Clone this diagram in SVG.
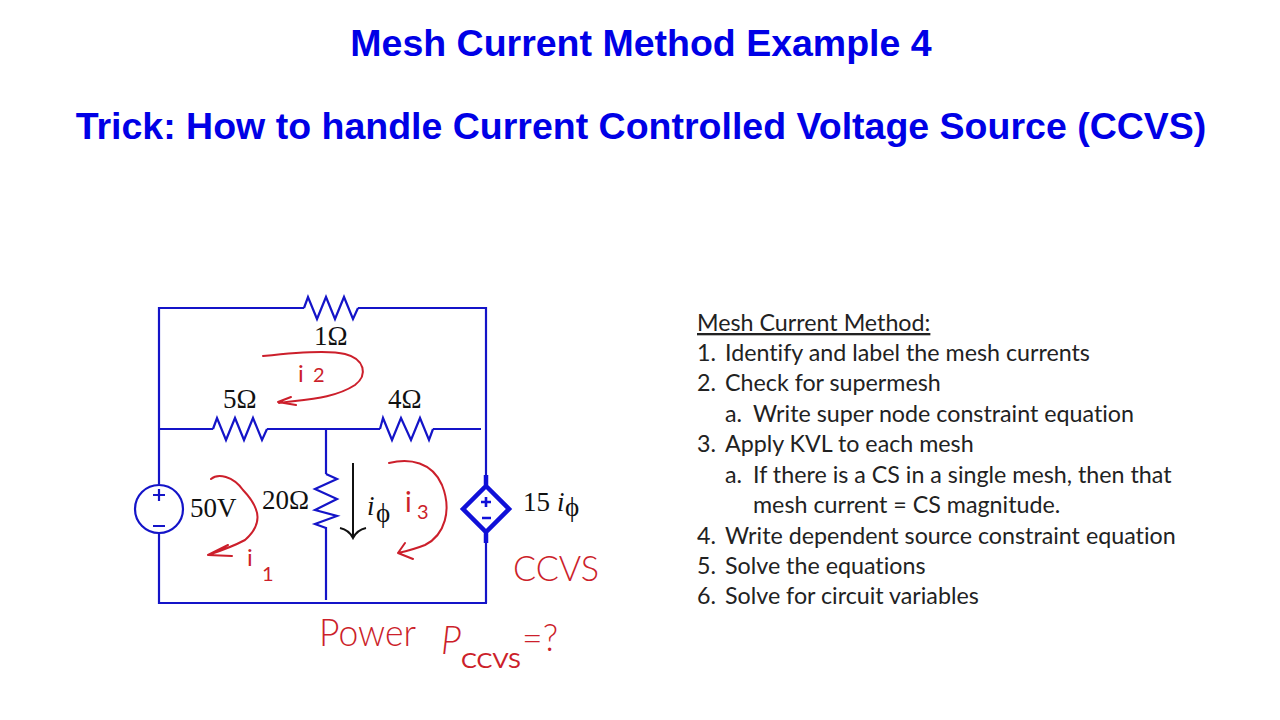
<svg xmlns="http://www.w3.org/2000/svg" width="1280" height="720" viewBox="0 0 1280 720">
<style>
.t{font-family:"Liberation Sans",Arial,sans-serif;font-weight:700;font-size:37.5px;fill:#0000e6;text-anchor:middle}
.w{fill:none;stroke:#1414c8;stroke-width:2.2;stroke-linejoin:miter}
.s{font-family:"Liberation Serif","Times New Roman",serif;font-size:27px;fill:#111}
.l{font-family:Lato,"Open Sans",sans-serif;font-size:23.25px;fill:#222;font-variant-ligatures:none}
.r{fill:none;stroke:#cc1f2b;stroke-width:2;stroke-linecap:round;stroke-linejoin:round}
.h{font-family:Lato,"Open Sans",sans-serif;font-weight:400;fill:#cc1f2b}
</style>
<rect width="1280" height="720" fill="#fff"/>
<g id="title">
<text class="t" x="641" y="56">Mesh Current Method Example 4</text>
<text class="t" x="641" y="139">Trick: How to handle Current Controlled Voltage Source (CCVS)</text>
</g>
<g id="connectors">
<path class="w" d="M486,475V308H358M304,308H159V484M159,534V603H487M486,603V540M159,429H213M267,429H380M433,429H481M326,429V474M326,527V600"/>
<path d="M353,463V537M340,528Q349,530 353,538Q357,530 366,528" fill="none" stroke="#111" stroke-width="2"/>
</g>
<g id="r1"><path class="w" d="M304,308L308,297L317,319L326,297L335,319L344,297L353,319L358,308"/><text class="s" x="314" y="345">1Ω</text></g>
<g id="r5"><path class="w" d="M213,429L217,418L226,440L235,418L244,440L253,418L262,440L267,429"/><text class="s" x="223" y="408">5Ω</text></g>
<g id="r4"><path class="w" d="M380,429L383,418L392,440L401,418L411,440L420,418L429,440L433,429"/><text class="s" x="388" y="408">4Ω</text></g>
<g id="r20"><path class="w" d="M326,474L337,479L315,489L337,499L315,510L337,516L315,524L326,528"/><text class="s" x="262" y="509">20Ω</text></g>
<g id="v50"><circle class="w" cx="159" cy="509" r="24"/><path class="w" d="M153,495H165M159,489V501M153,526H165"/><text class="s" x="190" y="517" font-size="25.5">50V</text></g>
<g id="ccvs">
<path d="M486,475V489M486,529V543M486,486L509,509L486,532L463,509Z" fill="none" stroke="#1010d8" stroke-width="4.5"/>
<path d="M481,502H491M486,497V507M482,518H491" fill="none" stroke="#1010d8" stroke-width="2.6"/>
<text class="s" x="523" y="511" font-size="26">15</text>
<text class="s" x="557" y="511" font-style="italic" font-size="31">i</text>
<text class="s" x="565" y="516" font-size="26">ϕ</text>
</g>
<g id="iphi"><text class="s" x="367" y="515" font-style="italic" font-size="33">i</text><text class="s" x="376" y="522" font-size="28">ϕ</text></g>
<g id="mesh-i2"><path class="r" d="M263,356C290,353 330,350 345,354C365,359 368,375 355,385C335,398 310,399 279,403M291,397L278,402L296,405"/><text class="h" x="298" y="382" font-size="24">i</text><text class="h" x="313" y="382" font-size="20">2</text></g>
<g id="mesh-i1"><path class="r" d="M211,479C218,473 233,476 243,490C262,510 262,525 245,540C232,547 220,551 208,555L228,545M208,555L232,556"/><text class="h" x="247" y="566" font-size="24">i</text><text class="h" x="262" y="581" font-size="20">1</text></g>
<g id="mesh-i3"><path class="r" d="M389,463C410,458 432,462 442,485C452,510 445,535 425,545C415,549 407,551 398,553M405,543L398,553L413,559"/><text class="h" x="405" y="512" font-size="28">i</text><text class="h" x="417" y="519" font-size="20">3</text></g>
<g id="note-ccvs"><text class="h" x="513" y="581" font-size="35" font-weight="300" textLength="86" lengthAdjust="spacingAndGlyphs" style="font-weight:300">CCVS</text></g>
<g id="note-power">
<text class="h" x="319" y="646" font-size="38" textLength="97" lengthAdjust="spacingAndGlyphs" style="font-weight:300">Power</text>
<text class="h" x="441" y="654" font-size="40" font-style="italic" textLength="20" lengthAdjust="spacingAndGlyphs" style="font-weight:300">P</text>
<text class="h" x="461" y="668" font-size="21" textLength="60" lengthAdjust="spacingAndGlyphs">CCVS</text>
<text class="h" x="522" y="651" font-size="38" textLength="36" lengthAdjust="spacingAndGlyphs" style="font-weight:300">=?</text>
</g>
<g id="steps">
<text class="l" x="697" y="331" text-decoration="underline">Mesh Current Method:</text>
<text class="l" x="697" y="361">1.</text><text class="l" x="725" y="361">Identify and label the mesh currents</text>
<text class="l" x="697" y="391">2.</text><text class="l" x="725" y="391">Check for supermesh</text>
<text class="l" x="725" y="422">a.</text><text class="l" x="753" y="422">Write super node constraint equation</text>
<text class="l" x="697" y="452">3.</text><text class="l" x="725" y="452">Apply KVL to each mesh</text>
<text class="l" x="725" y="483">a.</text><text class="l" x="753" y="483">If there is a CS in a single mesh, then that</text>
<text class="l" x="753" y="513">mesh current = CS magnitude.</text>
<text class="l" x="697" y="544">4.</text><text class="l" x="725" y="544">Write dependent source constraint equation</text>
<text class="l" x="697" y="574">5.</text><text class="l" x="725" y="574">Solve the equations</text>
<text class="l" x="697" y="604">6.</text><text class="l" x="725" y="604">Solve for circuit variables</text>
</g>
</svg>
